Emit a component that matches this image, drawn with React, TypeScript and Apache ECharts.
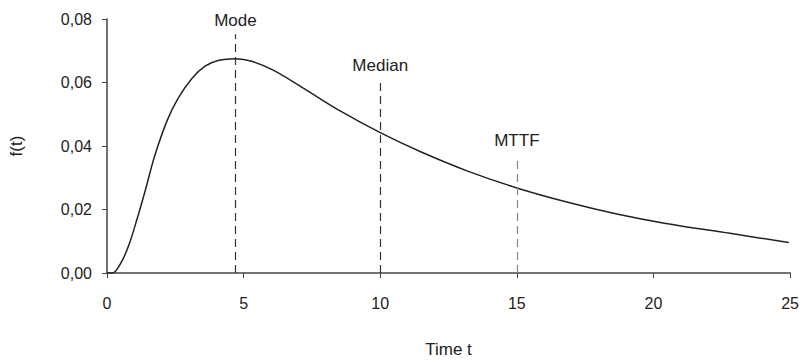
import React, { useEffect, useRef } from "react";
import * as echarts from "echarts";

const timeValues = [0, 0.2, 0.5, 0.8, 1.1, 1.4, 1.75, 2.2, 2.6, 3.1, 3.6, 4.1, 4.7, 5.3, 6.1, 7.3, 8.5, 10.0, 11.5, 13.2, 15.0, 16.9, 18.7, 20.4, 22.8, 24.95];
const densityValues = [0, 0, 0.003, 0.0088, 0.017, 0.026, 0.037, 0.048, 0.055, 0.0612, 0.0652, 0.067, 0.0675, 0.0667, 0.0638, 0.0576, 0.0512, 0.0442, 0.0381, 0.0321, 0.0268, 0.0222, 0.0185, 0.0157, 0.0125, 0.0096];

const markerNames = ["Mode", "Median", "MTTF"];
const markerTimes = [4.7, 10, 15];
const markerTops = [0.0752, 0.0603, 0.0366];
const markerColors = ["#333", "#333", "#888"];
const markerLabelGaps = [5, 8, 8];

const FONT = "'Liberation Sans', Arial, sans-serif";

export default function App() {
  const ref = useRef<HTMLDivElement>(null);
  useEffect(() => {
    if (!ref.current) return;
    const chart = echarts.init(ref.current, null, { renderer: "svg" });
    const data = timeValues.map((t, i) => [t, densityValues[i]]);
    chart.setOption({
      animation: false,
      backgroundColor: "#fff",
      textStyle: { fontFamily: FONT },
      grid: { left: 105, right: 10, top: 19, bottom: 90, containLabel: false },
      xAxis: {
        type: "value",
        min: 0,
        max: 25,
        interval: 5,
        name: "Time t",
        nameLocation: "middle",
        nameGap: 68,
        nameTextStyle: { fontSize: 17, color: "#222", fontFamily: FONT },
        axisLine: { show: true, onZero: false, lineStyle: { color: "#444", width: 1.5 } },
        axisTick: { show: true, length: 5, lineStyle: { color: "#444" } },
        axisLabel: { fontSize: 16, color: "#222", margin: 22, fontFamily: FONT },
        splitLine: { show: false },
      },
      yAxis: {
        type: "value",
        min: 0,
        max: 0.08,
        interval: 0.02,
        name: "f(t)",
        nameLocation: "middle",
        nameGap: 82,
        nameRotate: 90,
        nameTextStyle: { fontSize: 17, color: "#222", fontFamily: FONT },
        axisLine: { show: true, lineStyle: { color: "#444", width: 1.5 } },
        axisTick: { show: true, length: 5, lineStyle: { color: "#444" } },
        axisLabel: {
          fontSize: 16,
          color: "#222",
          margin: 15,
          fontFamily: FONT,
          formatter: (v: number) => v.toFixed(2).replace(".", ","),
        },
        splitLine: { show: false },
      },
      series: [
        {
          type: "line",
          data,
          smooth: 0.35,
          showSymbol: false,
          lineStyle: { color: "#222", width: 1.5 },
          markLine: {
            symbol: "none",
            silent: true,
            data: markerNames.map((name, i) => [
              {
                coord: [markerTimes[i], 0],
                lineStyle: { color: markerColors[i], type: [8, 5], width: 1.2 },
                label: {
                  show: true,
                  position: "end",
                  formatter: name,
                  fontSize: 17,
                  color: "#222",
                  distance: markerLabelGaps[i],
                  fontFamily: FONT,
                },
              },
              { coord: [markerTimes[i], markerTops[i]] },
            ]),
          },
        },
      ],
    });
    return () => chart.dispose();
  }, []);
  return (
    <div
      ref={ref}
      style={{ position: "fixed", left: 0, top: 0, width: 802, height: 363, background: "#fff" }}
    />
  );
}
